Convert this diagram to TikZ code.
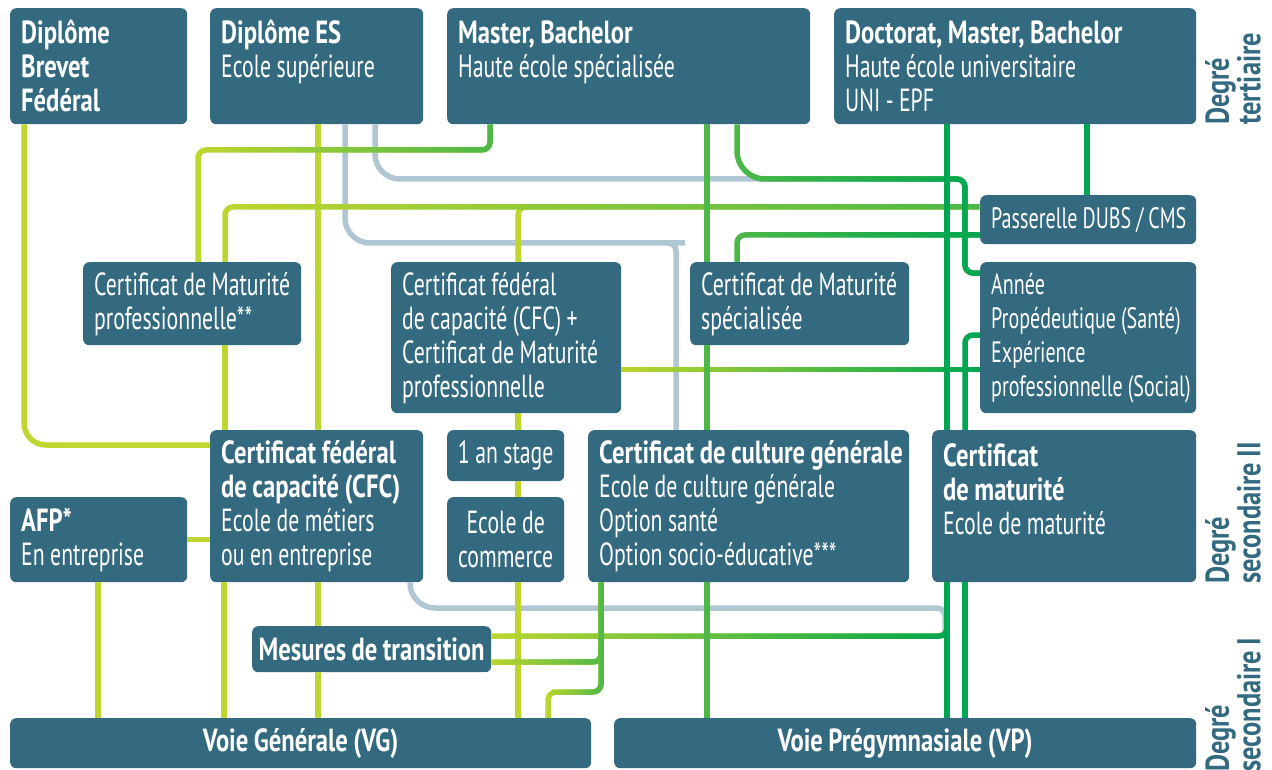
\documentclass[tikz,border=0pt]{standalone}
\usepackage{fontspec}
\setmainfont{PT Sans}[UprightFeatures={FakeStretch=0.68}, BoldFeatures={FakeStretch=0.77}]
\newfontfamily\levelfont{PT Sans}[FakeStretch=0.8]
\usetikzlibrary{fadings}

\definecolor{boxblue}{RGB}{51,106,128}
\definecolor{lineLime}{RGB}{190,214,47}
\definecolor{lineGreen}{RGB}{77,184,72}
\definecolor{lineDark}{RGB}{0,166,81}
\definecolor{lineGray}{RGB}{176,198,211}

\tikzset{
	box/.style = {fill=boxblue, text=white, rounded corners=6pt, anchor=north west,
	 inner xsep=11pt, inner ysep=0pt, align=left, font=\fontsize{32}{34}\selectfont,
	 execute at begin node={\spaceskip=0.17em\hyphenpenalty=10000\rightskip=0pt plus 1fil minus 200pt}},
	boxmid/.style = {box, align=center, inner xsep=4pt,
	 execute at begin node={\spaceskip=0.17em\hyphenpenalty=10000\leftskip=0pt plus 1fil minus 100pt\rightskip=0pt plus 1fil minus 100pt}},
	dims/.style 2 args = {text width=#1, minimum height=#2},
	small/.style = {font=\fontsize{29.5}{34}\selectfont},
	link/.style = {line width=5.5pt, rounded corners=8pt},
	level/.style = {rotate=90, anchor=north west, align=left, inner sep=0pt,
	 text=boxblue, font=\levelfont\fontsize{33}{29}\selectfont\bfseries,
	 execute at begin node={\spaceskip=0.17em}}
}
% line that turns from #1 (left) to #2 (right)
\newcommand\fadelink[3]{\draw[link,#1] #3; \draw[link,#2,path fading=west] #3;}

\begin{document}
\begin{tikzpicture}[x=1pt, y=-1pt]
\useasboundingbox (0,0) rectangle (1272,770);

% NODES
% degre tertiaire
\node (dbf) [box, dims={155pt}{116pt}] at (10,8) {\textbf{Diplôme}\\\textbf{Brevet}\\\textbf{Fédéral}};
\node (des) [box, dims={191pt}{116pt}] at (210,8) {\textbf{Diplôme ES}\\Ecole supérieure\\\mbox{}};
\node (hes) [box, dims={341pt}{116pt}] at (447,8) {\textbf{Master, Bachelor}\\Haute école spécialisée\\\mbox{}};
\node (hu) [box, dims={340pt}{116pt}] at (834,8) {\textbf{Doctorat, Master, Bachelor}\\Haute école universitaire\\UNI - EPF};
% passerelles
\node (dubs) [box, small, dims={194pt}{49pt}] at (980,195) {Passerelle DUBS / CMS};
\node (cmp) [box, dims={196pt}{83pt}] at (83,262) {Certificat de Maturité\\professionnelle**};
\node (cfcmp) [box, dims={208pt}{151pt}] at (391,262) {Certificat fédéral\\de capacité (CFC) +\\Certificat de Maturité\\professionnelle};
\node (cms) [box, dims={197pt}{83pt}] at (690,262) {Certificat de Maturité\\spécialisée};
\node (prop) [box, small, dims={194pt}{151pt}] at (980,262) {Année\\Propédeutique (Santé)\\Expérience\\professionnelle (Social)};
% degre secondaire II
\node (cfc) [box, dims={191pt}{152pt}] at (210,430) {\textbf{Certificat fédéral}\\\textbf{de capacité (CFC)}\\Ecole de métiers\\ou en entreprise};
\node (stage) [boxmid, dims={109pt}{51pt}] at (447,430) {1 an stage};
\node (ecom) [boxmid, dims={109pt}{85pt}] at (447,497) {Ecole de\\commerce};
\node (ccg) [box, dims={299pt}{152pt}] at (588,430) {\textbf{Certificat de culture générale}\\Ecole de culture générale\\Option santé\\Option socio-éducative***};
\node (cmat) [box, dims={242pt}{152pt}] at (932,430) {\textbf{Certificat}\\\textbf{de maturité}\\Ecole de maturité\\\mbox{}};
\node (afp) [box, dims={155pt}{85pt}] at (10,497) {\textbf{AFP*}\\En entreprise};
% degre secondaire I
\node (trans) [boxmid, dims={231pt}{46pt}] at (252,626) {\textbf{Mesures de transition}};
\node (vg) [boxmid, dims={573pt}{50pt}] at (10,718) {\textbf{Voie Générale (VG)}};
\node (vp) [boxmid, dims={574pt}{50pt}] at (614,718) {\textbf{Voie Prégymnasiale (VP)}};
% levels
\node (lter) [level] at (1205,125) {Degré\\tertiaire};
\node (lsec2) [level] at (1205,584) {Degré\\secondaire II};
\node (lsec1) [level] at (1205,772) {Degré\\secondaire I};
\coordinate (turn) at (945,636);

% CONNECTIONS
% gray
\draw[link, lineGray, rounded corners=25pt] (345,0 |- des.south) |- (660,243) [rounded corners=8pt] -| (676,0 |- ccg.north);
\draw[link, lineGray, rounded corners=25pt] (375,0 |- des.south) |- (790,179);
\draw[link, lineGray, rounded corners=25pt] (410,0 |- cfc.south) |- (900,608) [rounded corners=8pt] -| (turn);
% lime
\draw[link, lineLime, rounded corners=22pt] (24,0 |- dbf.south) |- ([yshift=-15pt]cfc.north west);
\draw[link, lineLime] (318,0 |- des.south) -- (318,0 |- cfc.north);
\draw[link, lineLime] (318,0 |- cfc.south) -- (318,0 |- trans.north);
\draw[link, lineLime] (318,0 |- trans.south) -- (318,0 |- vg.north);
\draw[link, lineLime] (224,0 |- cfc.south) -- (224,0 |- vg.north);
\draw[link, lineLime] (afp.east) -- (afp.east -| cfc.west);
\draw[link, lineLime] (98,0 |- afp.south) -- (98,0 |- vg.north);
\draw[link, lineLime] (225,0 |- cmp.south) -- (225,0 |- cfc.north);
\draw[link, lineLime] (518,0 |- cfcmp.north) |- (560,207);
\draw[link, lineLime] (518,0 |- cfcmp.south) -- (518,0 |- stage.north);
\draw[link, lineLime] (518,0 |- stage.south) -- (518,0 |- ecom.north);
\draw[link, lineLime] (518,0 |- ecom.south) -- (518,0 |- vg.north);
% lime to green
\fadelink{lineLime}{lineGreen}{(490,0 |- hes.south) |- (198,150) -- (198,0 |- cmp.north)}
\fadelink{lineLime}{lineGreen}{(225,0 |- cmp.north) |- ([yshift=-12pt]dubs.north west)}
\fadelink{lineLime}{lineDark}{([yshift=-32pt]cfcmp.east) -- ([yshift=-32pt]cfcmp.east -| prop.west)}
\fadelink{lineLime}{lineDark}{([yshift=-10pt]trans.north east) -| (947,0 |- cmat.south)}
\fadelink{lineLime}{lineGreen}{([yshift=-36pt]trans.north east) -| (601,0 |- ccg.south)}
\fadelink{lineLime}{lineGreen}{(601,0 |- ccg.south) |- (560,692) -| (548,0 |- vg.north)}
\fadelink{lineGreen}{lineDark}{(737,0 |- hes.south) [rounded corners=28pt] |- (900,179) [rounded corners=8pt] -| ([xshift=-15pt,yshift=-11pt]prop.north west) -- ([yshift=-11pt]prop.north west)}
\fadelink{lineGreen}{lineDark}{([yshift=-40pt]dubs.north west) -| (737,0 |- cms.north)}
% green
\draw[link, lineGreen] (707,0 |- hes.south) -- (707,0 |- cms.north);
\draw[link, lineGreen] (707,0 |- cms.south) -- (707,0 |- ccg.north);
\draw[link, lineGreen] (707,0 |- ccg.south) -- (707,0 |- vp.north);
% dark green
\draw[link, lineDark] (947,0 |- hu.south) -- (947,0 |- cmat.north);
\draw[link, lineDark] (947,0 |- cmat.south) -- (947,0 |- vp.north);
\draw[link, lineDark] (965,0 |- cmat.south) -- (965,0 |- vp.north);
\draw[link, lineDark] (1087,0 |- hu.south) -- (1087,0 |- dubs.north);
\draw[link, lineDark] (965,0 |- cmat.north) |- ([yshift=-73pt]prop.north west);

\end{tikzpicture}
\end{document}
